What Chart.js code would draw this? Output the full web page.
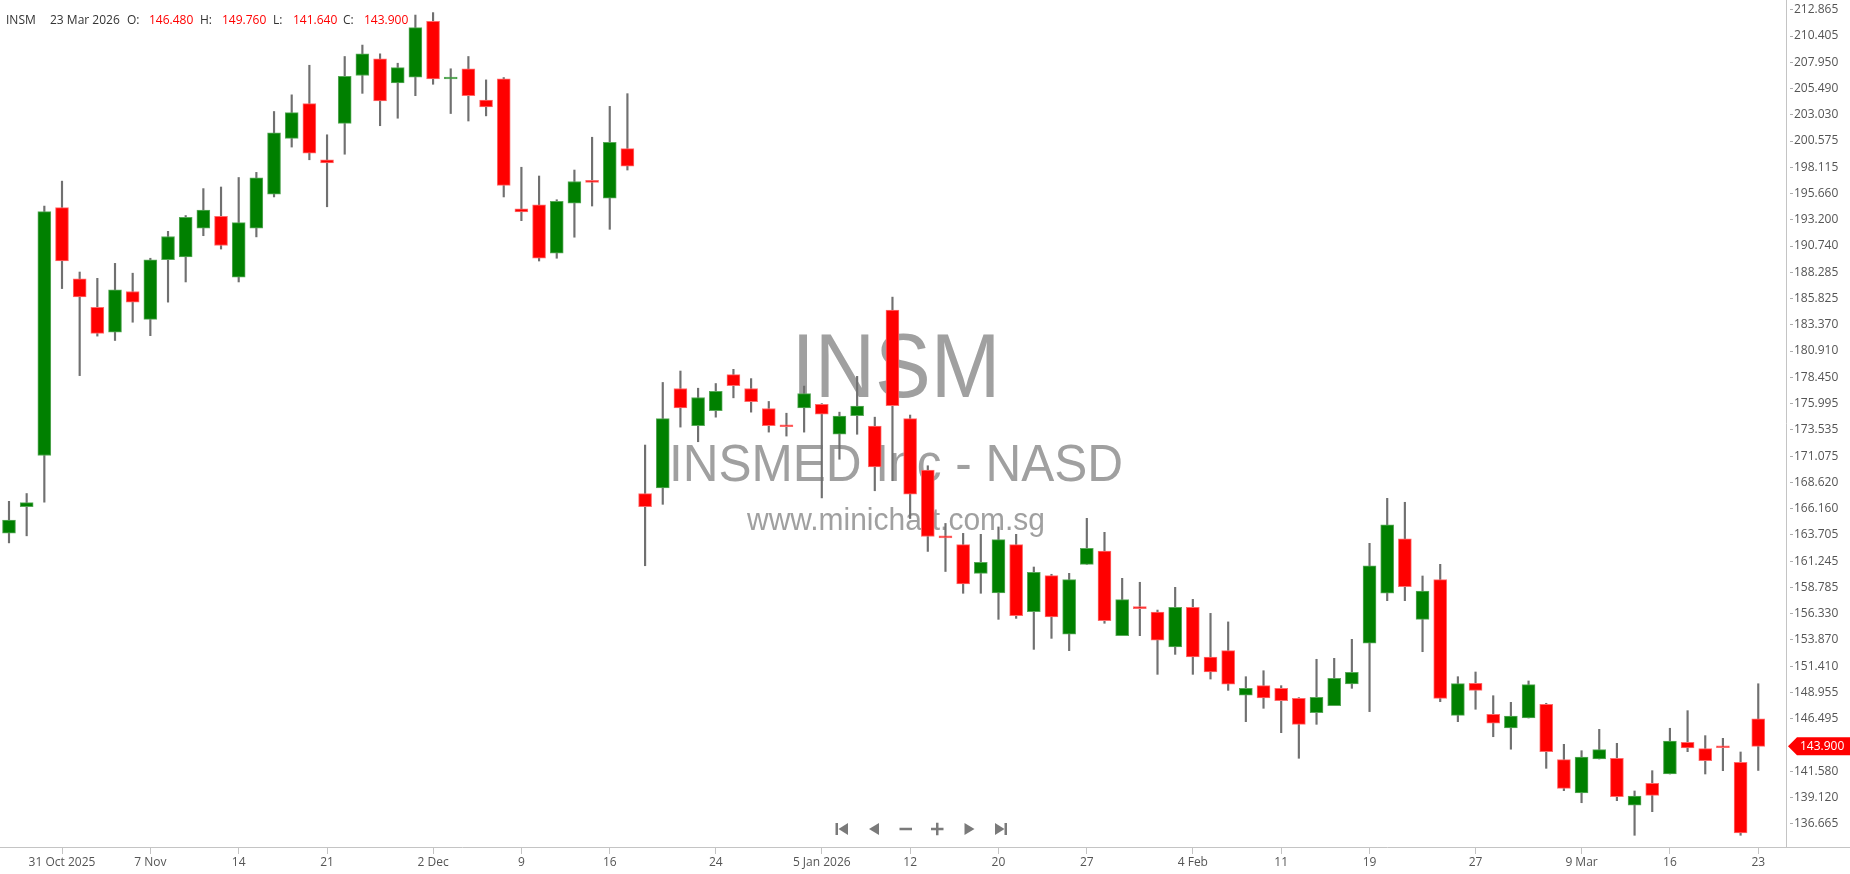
<!DOCTYPE html>
<html>
<head>
<meta charset="utf-8">
<script src="https://cdn.jsdelivr.net/npm/chart.js@4.4.1/dist/chart.umd.min.js"></script>
<style>
html,body{margin:0;padding:0;background:#fff;overflow:hidden}
#wrap{position:relative;width:1850px;height:874px}
canvas{display:block}
</style>
</head>
<body>
<div id="wrap"><canvas id="c" width="1850" height="874"></canvas></div>
<script>
// ---------- DATA ----------
const symbol = 'INSM';
const companyName = 'INSMED Inc - NASD';
const website = 'www.minichart.com.sg';
const headerDate = '23 Mar 2026';

const dates = [
'2025-10-28','2025-10-29','2025-10-30','2025-10-31',
'2025-11-03','2025-11-04','2025-11-05','2025-11-06','2025-11-07',
'2025-11-10','2025-11-11','2025-11-12','2025-11-13','2025-11-14',
'2025-11-17','2025-11-18','2025-11-19','2025-11-20','2025-11-21',
'2025-11-24','2025-11-25','2025-11-26','2025-11-28',
'2025-12-01','2025-12-02','2025-12-03','2025-12-04','2025-12-05',
'2025-12-08','2025-12-09','2025-12-10','2025-12-11','2025-12-12',
'2025-12-15','2025-12-16','2025-12-17','2025-12-18','2025-12-19',
'2025-12-22','2025-12-23','2025-12-24','2025-12-26',
'2025-12-29','2025-12-30','2025-12-31','2026-01-02',
'2026-01-05','2026-01-06','2026-01-07','2026-01-08','2026-01-09',
'2026-01-12','2026-01-13','2026-01-14','2026-01-15','2026-01-16',
'2026-01-20','2026-01-21','2026-01-22','2026-01-23',
'2026-01-26','2026-01-27','2026-01-28','2026-01-29','2026-01-30',
'2026-02-02','2026-02-03','2026-02-04','2026-02-05','2026-02-06',
'2026-02-09','2026-02-10','2026-02-11','2026-02-12','2026-02-13',
'2026-02-17','2026-02-18','2026-02-19','2026-02-20',
'2026-02-23','2026-02-24','2026-02-25','2026-02-26','2026-02-27',
'2026-03-02','2026-03-03','2026-03-04','2026-03-05','2026-03-06',
'2026-03-09','2026-03-10','2026-03-11','2026-03-12','2026-03-13',
'2026-03-16','2026-03-17','2026-03-18','2026-03-19','2026-03-20',
'2026-03-23'];

const opens = [
163.87,166.35,171.13,194.34,187.68,185.01,182.68,186.49,183.87,189.46,
189.72,192.42,193.53,187.83,192.42,195.60,200.82,204.08,198.82,202.23,
206.71,208.26,206.01,206.56,211.78,206.38,207.34,204.41,206.41,194.23,
194.60,190.08,194.75,196.90,195.23,199.86,167.56,168.10,177.40,173.92,
175.32,178.70,177.40,175.53,173.89,175.59,175.93,173.12,174.86,173.89,
184.75,174.59,169.77,163.52,162.78,160.10,158.26,162.78,156.51,159.88,
154.39,160.94,162.19,154.26,156.88,156.48,153.20,156.91,152.26,152.86,
148.68,149.58,149.33,148.39,147.05,147.71,149.74,153.55,158.23,163.34,
155.79,159.51,146.80,149.80,146.90,145.62,146.55,147.83,142.65,139.53,
142.71,142.78,138.38,140.44,141.31,144.27,143.68,143.87,142.40,146.48];

const highs = [
166.84,167.57,194.49,196.82,188.31,187.72,189.12,188.20,189.60,192.12,
193.60,196.12,196.27,197.16,197.64,203.34,204.90,207.67,201.16,208.49,
209.56,208.74,207.86,212.37,212.60,207.34,208.49,206.30,206.52,198.12,
197.30,195.08,197.86,200.93,203.82,205.01,172.11,177.97,179.04,177.43,
177.87,179.20,178.33,176.19,175.09,177.63,175.99,175.19,178.54,174.72,
185.96,174.92,170.17,164.77,163.84,163.75,164.44,163.75,160.69,160.01,
160.10,165.25,163.94,159.63,159.26,156.66,158.79,157.66,156.35,155.55,
150.42,150.98,149.58,148.46,152.05,152.14,153.92,162.91,167.12,166.75,
159.85,160.94,150.42,150.86,148.64,148.02,150.02,147.93,144.09,143.49,
145.49,144.18,139.72,141.62,145.59,147.24,144.90,144.65,143.37,149.76];

const lows = [
162.95,163.61,166.76,186.76,178.61,182.31,181.90,183.61,182.35,185.49,
187.38,191.71,190.46,187.38,191.60,195.34,200.01,198.82,194.42,199.34,
205.04,202.01,202.71,204.82,205.89,203.15,202.45,202.93,195.34,193.12,
189.34,189.60,191.57,194.49,192.31,197.86,160.81,166.56,173.79,172.42,
174.72,176.53,175.19,173.32,172.95,173.32,167.16,170.78,173.12,167.83,
168.77,165.23,162.15,160.27,158.23,158.23,155.79,155.88,152.98,154.01,
152.86,160.94,155.42,154.26,154.26,150.64,152.51,150.64,150.20,149.14,
146.21,147.46,145.18,142.78,145.96,147.71,149.33,147.15,157.54,157.54,
152.76,148.08,146.21,147.37,144.80,143.63,146.55,141.84,139.75,138.62,
142.71,138.81,135.57,137.78,141.31,143.40,141.31,141.62,135.57,141.64];

const closes = [
165.09,166.72,193.97,189.34,185.98,182.57,186.64,185.49,189.46,191.64,
193.42,194.12,190.79,192.94,197.12,201.34,203.23,199.45,198.53,206.63,
208.74,204.34,207.45,211.19,206.38,206.52,204.82,203.78,196.42,193.94,
189.60,194.94,196.79,196.71,200.45,198.23,166.33,174.59,175.59,176.56,
177.13,177.66,176.16,173.92,173.82,176.93,174.99,174.82,175.76,170.07,
175.79,167.50,163.55,163.42,159.10,161.13,163.25,156.13,160.19,156.01,
159.51,162.44,155.67,157.63,156.79,153.83,156.91,152.26,150.86,149.72,
149.33,148.43,148.18,145.96,148.49,150.27,150.83,160.79,164.65,158.85,
158.44,148.39,149.77,149.14,146.08,146.74,149.67,143.40,139.97,142.90,
143.59,139.19,139.25,139.31,144.40,143.74,142.56,143.77,135.79,143.90];

const yTickLabels = [
'136.665','139.120','141.580','146.495','148.955','151.410','153.870','156.330',
'158.785','161.245','163.705','166.160','168.620','171.075','173.535','175.995',
'178.450','180.910','183.370','185.825','188.285','190.740','193.200','195.660',
'198.115','200.575','203.030','205.490','207.950','210.405','212.865'];

const xTickDates = ['2025-10-31','2025-11-07','2025-11-14','2025-11-21','2025-12-02','2025-12-09',
'2025-12-16','2025-12-24','2026-01-05','2026-01-12','2026-01-20','2026-01-27','2026-02-04',
'2026-02-11','2026-02-19','2026-02-27','2026-03-09','2026-03-16','2026-03-23'];
const xTickLabels = ['31 Oct 2025','7 Nov','14','21','2 Dec','9','16','24','5 Jan 2026','12',
'20','27','4 Feb','11','19','27','9 Mar','16','23'];

// ---------- DERIVED ----------
const UP = '#008000', DOWN = '#ff0000';
const yTickValues = yTickLabels.map(parseFloat);
const xTickIdx = xTickDates.map(d => dates.indexOf(d));
const bodyData = dates.map((d, i) => ({x: i, y: [opens[i], closes[i]]}));
const wickData = dates.map((d, i) => ({x: i, y: [lows[i], highs[i]]}));
const bodyColors = dates.map((d, i) => closes[i] >= opens[i] ? UP : DOWN);
const bodyBorders = dates.map((d, i) => closes[i] >= opens[i] ? '#58a858' : '#ff6a6a');
const last = dates.length - 1;

const FONT = '"Open Sans", "Liberation Sans", sans-serif';

function drawScaled(ctx, text, font, cx, by, w) {
  ctx.font = font;
  const m = ctx.measureText(text).width;
  ctx.save();
  ctx.translate(cx, by);
  ctx.scale(w / m, 1);
  ctx.textAlign = 'center';
  ctx.fillText(text, 0, 0);
  ctx.restore();
}

const decor = {
  id: 'decor',
  beforeDraw(chart) {
    const {ctx, chartArea: a} = chart;
    ctx.save();
    ctx.fillStyle = '#fff';
    ctx.fillRect(0, 0, chart.width, chart.height);
    const cx = (a.left + a.right) / 2 + 3;
    ctx.fillStyle = '#a0a0a0';
    ctx.textBaseline = 'alphabetic';
    drawScaled(ctx, symbol, '91px "Liberation Sans"', cx, 397, 209);
    drawScaled(ctx, companyName, '52.6px "Liberation Sans"', cx, 481, 454);
    drawScaled(ctx, website, '31px "Liberation Sans"', cx, 530, 298);
    ctx.restore();
  },
  afterDraw(chart) {
    const {ctx, chartArea: a, scales} = chart;
    ctx.save();
    // axis lines
    ctx.strokeStyle = '#c4c4c4';
    ctx.lineWidth = 1;
    ctx.beginPath();
    ctx.moveTo(0, a.bottom + 0.5); ctx.lineTo(chart.width, a.bottom + 0.5);
    ctx.moveTo(a.right + 0.5, 0); ctx.lineTo(a.right + 0.5, a.bottom);
    ctx.stroke();

    // header
    ctx.font = '12px ' + FONT;
    ctx.textBaseline = 'alphabetic';
    ctx.textAlign = 'left';
    const hy = 23.5;
    const parts = [
      [symbol, 6, '#333'], [headerDate, 50, '#333'],
      ['O:', 127, '#333'], [opens[last].toFixed(3), 149, DOWN],
      ['H:', 200, '#333'], [highs[last].toFixed(3), 222, DOWN],
      ['L:', 273, '#333'], [lows[last].toFixed(3), 293, DOWN],
      ['C:', 343, '#333'], [closes[last].toFixed(3), 364, DOWN]
    ];
    const lastCol = closes[last] >= opens[last] ? UP : DOWN;
    parts.forEach(p => {
      ctx.fillStyle = p[2] === DOWN ? lastCol : p[2];
      ctx.fillText(p[0], p[1], hy);
    });

    // current price tag
    const py = scales.y.getPixelForValue(closes[last]);
    const x0 = a.right + 2;
    ctx.fillStyle = lastCol;
    ctx.beginPath();
    ctx.moveTo(x0, py);
    ctx.lineTo(x0 + 9, py - 9);
    ctx.lineTo(chart.width, py - 9);
    ctx.lineTo(chart.width, py + 9);
    ctx.lineTo(x0 + 9, py + 9);
    ctx.closePath();
    ctx.fill();
    ctx.fillStyle = '#fff';
    ctx.textBaseline = 'middle';
    ctx.fillText(closes[last].toFixed(3), x0 + 12, py + 0.5);

    // navigation icons
    ctx.fillStyle = '#7a7a7a';
    const ny = 829;
    ctx.fillRect(835.5, ny - 6, 2.5, 12);
    tri(ctx, 838.5, 848, ny, 'left');
    tri(ctx, 869, 879, ny, 'left');
    ctx.fillRect(899.5, ny - 1.25, 12.5, 2.5);
    ctx.fillRect(931, ny - 1.25, 12.5, 2.5);
    ctx.fillRect(936, ny - 6.25, 2.5, 12.5);
    tri(ctx, 964.5, 974.5, ny, 'right');
    tri(ctx, 995, 1004.5, ny, 'right');
    ctx.fillRect(1004.5, ny - 6, 2.5, 12);
    ctx.restore();
  }
};

function tri(ctx, xa, xb, cy, dir) {
  ctx.beginPath();
  if (dir === 'left') {
    ctx.moveTo(xa, cy); ctx.lineTo(xb, cy - 6); ctx.lineTo(xb, cy + 6);
  } else {
    ctx.moveTo(xb, cy); ctx.lineTo(xa, cy - 6); ctx.lineTo(xa, cy + 6);
  }
  ctx.closePath();
  ctx.fill();
}

new Chart(document.getElementById('c'), {
  type: 'bar',
  data: {
    datasets: [
      {
        label: 'body', data: bodyData, order: 0,
        backgroundColor: bodyColors, borderColor: bodyBorders, borderWidth: 1,
        borderSkipped: false, barThickness: 13, minBarLength: 2, grouped: false
      },
      {
        label: 'wick', data: wickData, order: 1,
        backgroundColor: '#707070', borderWidth: 0,
        barThickness: 1.5, grouped: false
      }
    ]
  },
  options: {
    responsive: false,
    animation: false,
    events: [],
    layout: {padding: 0},
    plugins: {legend: {display: false}, tooltip: {enabled: false}, title: {display: false}},
    scales: {
      x: {
        type: 'linear', position: 'bottom',
        min: -0.509, max: 100.57, offset: false,
        afterBuildTicks: s => { s.ticks = xTickIdx.map(v => ({value: v})); },
        afterFit: s => { s.height = 27; s.paddingLeft = 0; s.paddingRight = 0; },
        grid: {offset: false, drawOnChartArea: false, drawTicks: true, tickLength: 7, color: '#c4c4c4'},
        border: {display: false},
        ticks: {
          autoSkip: false, maxRotation: 0, minRotation: 0, padding: 1,
          color: '#555', font: {family: FONT, size: 12},
          callback: (v, i) => xTickLabels[i]
        }
      },
      y: {
        type: 'linear', position: 'right',
        min: 134.474, max: 213.78,
        afterBuildTicks: s => { s.ticks = yTickValues.map(v => ({value: v})); },
        afterFit: s => { s.width = 64; s.paddingTop = 0; s.paddingBottom = 0; },
        grid: {offset: false, drawOnChartArea: false, drawTicks: true, tickLength: 7, color: '#aaa', tickBorderDash: [0, 4, 3, 40]},
        border: {display: false},
        ticks: {
          padding: 1, color: '#555', font: {family: FONT, size: 12},
          callback: (v, i) => yTickLabels[i]
        }
      }
    }
  },
  plugins: [decor]
});
</script>
</body>
</html>
